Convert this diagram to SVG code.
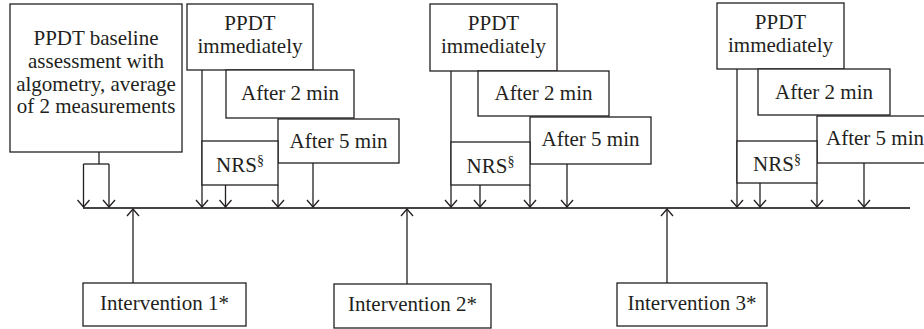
<svg xmlns="http://www.w3.org/2000/svg" width="924" height="329" viewBox="0 0 924 329" font-family="Liberation Serif, serif">
<style>
.box{fill:#fff;stroke:#231f20;stroke-width:1.3}
.t{font-family:'Liberation Serif',Tinos,'Times New Roman','DejaVu Serif',serif;font-size:21px;fill:#231f20;text-anchor:middle}
.sup{font-size:14px}
.ln{fill:none;stroke:#231f20;stroke-width:1.3}
.arr{fill:none;stroke:#231f20;stroke-width:1.3;marker-end:url(#ah)}
.tl{fill:none;stroke:#444;stroke-width:2.2}
</style>
<defs>
<marker id="ah" viewBox="-8 -7 10 14" refX="0" refY="0" markerWidth="10" markerHeight="14" orient="auto" markerUnits="userSpaceOnUse">
<path d="M-7,-6 L0,0 L-7,6" fill="none" stroke="#231f20" stroke-width="1.3"/>
</marker>
</defs>
<rect width="924" height="329" fill="#fff"/>
<g id="connectors">
<line class="tl" x1="83" y1="208" x2="910" y2="208"/>
<polyline class="ln" points="99,152 99,164"/>
<polyline class="ln" points="83.5,164 109,164"/>
<line class="arr" x1="83.5" y1="164" x2="83.5" y2="207"/>
<line class="arr" x1="109" y1="164" x2="109" y2="207"/>
<line class="arr" x1="202" y1="70" x2="202" y2="207"/>
<line class="arr" x1="225.5" y1="185" x2="225.5" y2="207"/>
<line class="arr" x1="278" y1="185" x2="278" y2="207"/>
<line class="arr" x1="313" y1="163" x2="313" y2="207"/>
<line class="arr" x1="451" y1="71" x2="451" y2="207"/>
<line class="arr" x1="480" y1="185" x2="480" y2="207"/>
<line class="arr" x1="530" y1="185" x2="530" y2="207"/>
<line class="arr" x1="567" y1="164" x2="567" y2="207"/>
<line class="arr" x1="737" y1="69" x2="737" y2="207"/>
<line class="arr" x1="760" y1="183" x2="760" y2="207"/>
<line class="arr" x1="817" y1="183" x2="817" y2="207"/>
<line class="arr" x1="864" y1="163" x2="864" y2="207"/>
<line class="arr" x1="133" y1="283" x2="133" y2="209"/>
<line class="arr" x1="407" y1="284" x2="407" y2="209"/>
<line class="arr" x1="667" y1="283" x2="667" y2="209"/>
</g>
<g id="baseline">
<rect class="box" x="10" y="4" width="172" height="148"/>
<text class="t" x="96" y="45">PPDT baseline</text>
<text class="t" x="96" y="68">assessment with</text>
<text class="t" x="96" y="91">algometry, average</text>
<text class="t" x="96" y="113">of 2 measurements</text>
</g>
<g id="g1-imm"><rect class="box" x="187" y="4" width="126" height="66"/><text class="t" x="250" y="30">PPDT</text><text class="t" x="250" y="53">immediately</text></g>
<g id="g1-2min"><rect class="box" x="226" y="70" width="128" height="48"/><text class="t" x="290" y="100">After 2 min</text></g>
<g id="g1-5min"><rect class="box" x="278" y="119" width="121" height="44"/><text class="t" x="338.5" y="148">After 5 min</text></g>
<g id="g1-nrs"><rect class="box" x="202" y="141" width="76" height="44"/><text class="t" x="240" y="172">NRS<tspan class="sup" dy="-7">§</tspan></text></g>
<g id="g2-imm"><rect class="box" x="430" y="4" width="127" height="67"/><text class="t" x="493.5" y="30">PPDT</text><text class="t" x="493.5" y="53">immediately</text></g>
<g id="g2-2min"><rect class="box" x="478" y="71" width="131" height="45"/><text class="t" x="543.5" y="100">After 2 min</text></g>
<g id="g2-5min"><rect class="box" x="530" y="117" width="121" height="47"/><text class="t" x="590.5" y="146">After 5 min</text></g>
<g id="g2-nrs"><rect class="box" x="451" y="142" width="79" height="43"/><text class="t" x="490.5" y="173">NRS<tspan class="sup" dy="-7">§</tspan></text></g>
<g id="g3-imm"><rect class="box" x="717" y="3" width="127" height="66"/><text class="t" x="780.5" y="29">PPDT</text><text class="t" x="780.5" y="52">immediately</text></g>
<g id="g3-2min"><rect class="box" x="758" y="69" width="132" height="46"/><text class="t" x="824" y="99">After 2 min</text></g>
<g id="g3-5min"><rect class="box" x="817" y="116" width="117" height="47"/><text class="t" x="875" y="145">After 5 min</text></g>
<g id="g3-nrs"><rect class="box" x="737" y="141" width="80" height="42"/><text class="t" x="777" y="171">NRS<tspan class="sup" dy="-7">§</tspan></text></g>
<g id="int1"><rect class="box" x="83" y="283" width="163" height="43"/><text class="t" x="164.5" y="310">Intervention 1*</text></g>
<g id="int2"><rect class="box" x="334" y="284" width="157" height="44"/><text class="t" x="412.5" y="311">Intervention 2*</text></g>
<g id="int3"><rect class="box" x="617" y="283" width="150" height="43"/><text class="t" x="692" y="310">Intervention 3*</text></g>
</svg>
